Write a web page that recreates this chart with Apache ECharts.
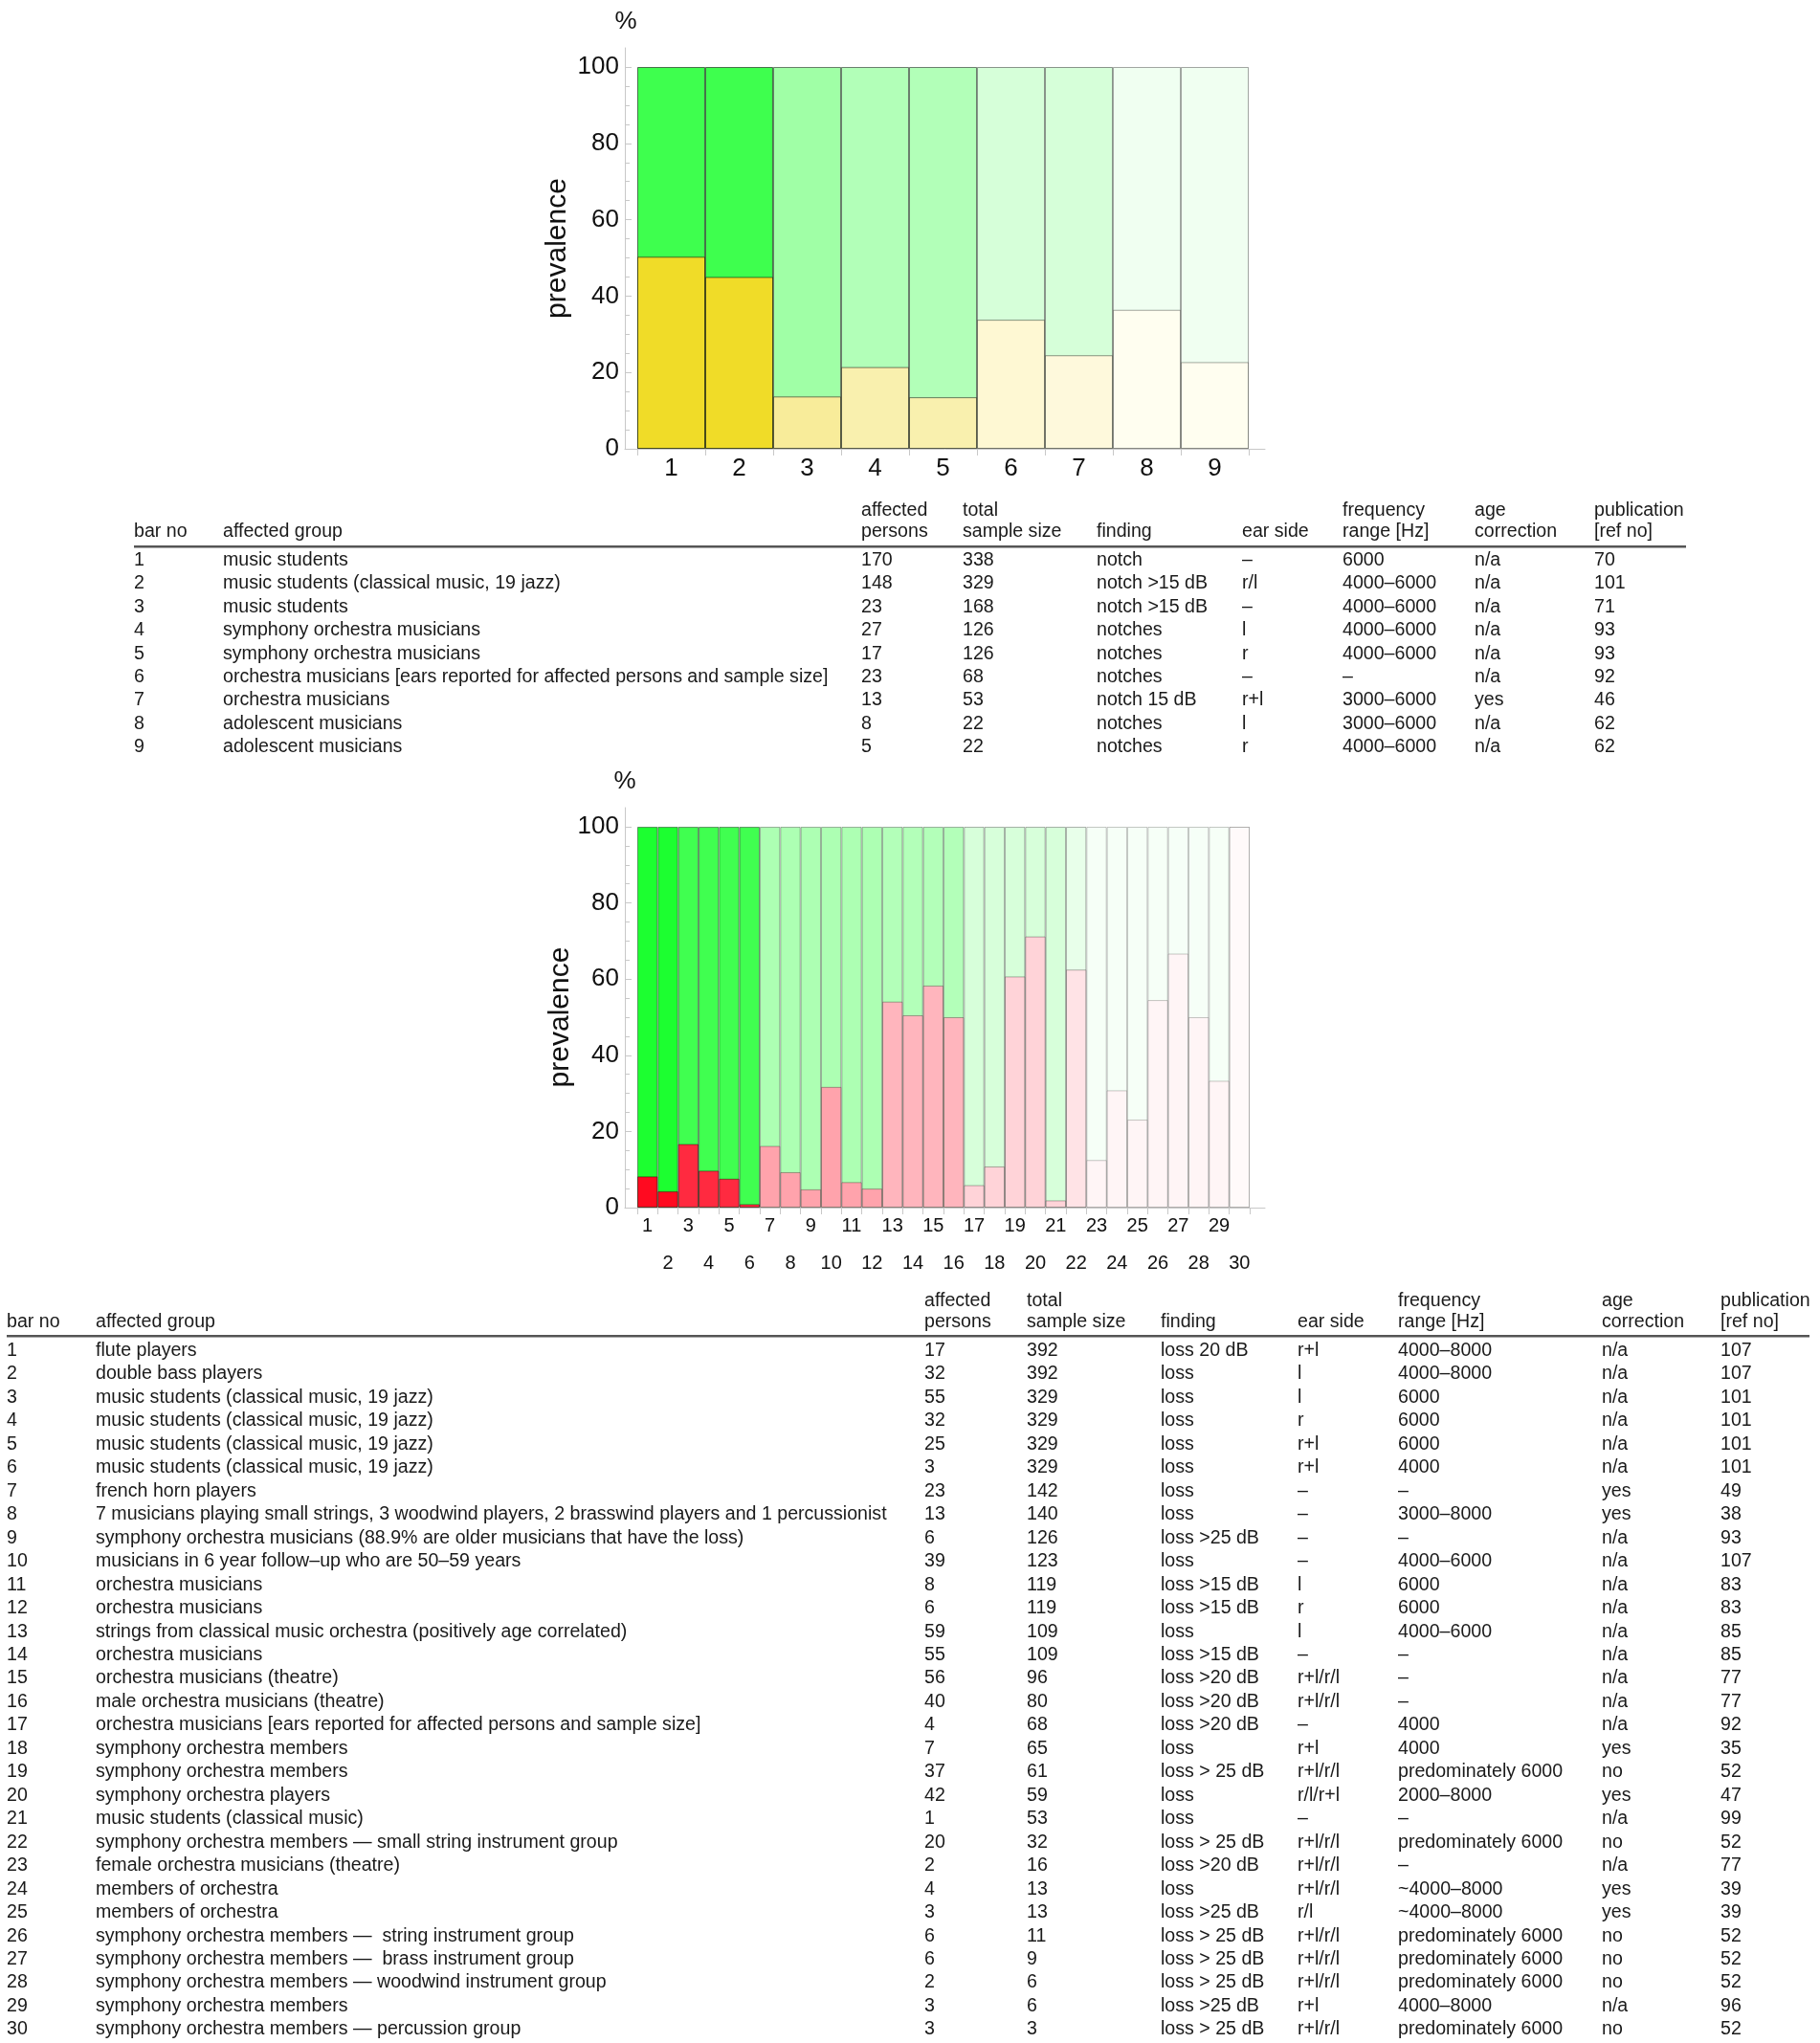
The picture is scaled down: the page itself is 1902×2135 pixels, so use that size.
<!DOCTYPE html>
<html>
<head>
<meta charset="utf-8">
<script src="https://cdn.jsdelivr.net/npm/echarts@6/dist/echarts.min.js"></script>
<style>
html,body{margin:0;padding:0;background:#fff;width:1902px;height:2135px;overflow:hidden;}
#chart{position:absolute;left:0;top:0;width:1902px;height:2135px;}
#tables{position:absolute;left:0;top:0;width:1902px;height:2135px;font-family:"Liberation Sans",Arial,sans-serif;font-size:19.6px;color:#1a1a1a;}
.t{position:absolute;white-space:pre;line-height:24px;}
.rule{position:absolute;height:2px;background:#555;border-bottom:1px solid #aaa;}
</style>
</head>
<body>
<div id="chart"></div>
<div id="tables"></div>
<script>
// ---------- chart data ----------
const topCategories = ['1','2','3','4','5','6','7','8','9'];
const topFull = [100,100,100,100,100,100,100,100,100];
const topPrevalence = [50.3,45.0,13.7,21.4,13.5,33.8,24.5,36.4,22.7];

const bottomCategories = ['1','2','3','4','5','6','7','8','9','10','11','12','13','14','15','16','17','18','19','20','21','22','23','24','25','26','27','28','29','30'];
const bottomFull = [100,100,100,100,100,100,100,100,100,100,100,100,100,100,100,100,100,100,100,100,100,100,100,100,100,100,100,100,100,100];
const bottomPrevalence = [8.2,4.3,16.7,9.7,7.6,0.9,16.2,9.3,4.8,31.7,6.7,5.0,54.1,50.5,58.3,50.0,5.9,10.8,60.7,71.2,1.9,62.5,12.5,30.8,23.1,54.5,66.7,50.0,33.3,100];

// ---------- table 1 data ----------
const t1BarNo = ['1','2','3','4','5','6','7','8','9'];
const t1Group = ['music students','music students (classical music, 19 jazz)','music students','symphony orchestra musicians','symphony orchestra musicians','orchestra musicians [ears reported for affected persons and sample size]','orchestra musicians','adolescent musicians','adolescent musicians'];
const t1Affected = ['170','148','23','27','17','23','13','8','5'];
const t1Total = ['338','329','168','126','126','68','53','22','22'];
const t1Finding = ['notch','notch >15 dB','notch >15 dB','notches','notches','notches','notch 15 dB','notches','notches'];
const t1Ear = ['–','r/l','–','l','r','–','r+l','l','r'];
const t1Freq = ['6000','4000–6000','4000–6000','4000–6000','4000–6000','–','3000–6000','3000–6000','4000–6000'];
const t1Age = ['n/a','n/a','n/a','n/a','n/a','n/a','yes','n/a','n/a'];
const t1Ref = ['70','101','71','93','93','92','46','62','62'];

// ---------- table 2 data ----------
const t2BarNo = ['1','2','3','4','5','6','7','8','9','10','11','12','13','14','15','16','17','18','19','20','21','22','23','24','25','26','27','28','29','30'];
const t2Group = ['flute players','double bass players','music students (classical music, 19 jazz)','music students (classical music, 19 jazz)','music students (classical music, 19 jazz)','music students (classical music, 19 jazz)','french horn players','7 musicians playing small strings, 3 woodwind players, 2 brasswind players and 1 percussionist','symphony orchestra musicians (88.9% are older musicians that have the loss)','musicians in 6 year follow–up who are 50–59 years','orchestra musicians','orchestra musicians','strings from classical music orchestra (positively age correlated)','orchestra musicians','orchestra musicians (theatre)','male orchestra musicians (theatre)','orchestra musicians [ears reported for affected persons and sample size]','symphony orchestra members','symphony orchestra members','symphony orchestra players','music students (classical music)','symphony orchestra members — small string instrument group','female orchestra musicians (theatre)','members of orchestra','members of orchestra','symphony orchestra members —  string instrument group','symphony orchestra members —  brass instrument group','symphony orchestra members — woodwind instrument group','symphony orchestra members','symphony orchestra members — percussion group'];
const t2Affected = ['17','32','55','32','25','3','23','13','6','39','8','6','59','55','56','40','4','7','37','42','1','20','2','4','3','6','6','2','3','3'];
const t2Total = ['392','392','329','329','329','329','142','140','126','123','119','119','109','109','96','80','68','65','61','59','53','32','16','13','13','11','9','6','6','3'];
const t2Finding = ['loss 20 dB','loss','loss','loss','loss','loss','loss','loss','loss >25 dB','loss','loss >15 dB','loss >15 dB','loss','loss >15 dB','loss >20 dB','loss >20 dB','loss >20 dB','loss','loss > 25 dB','loss','loss','loss > 25 dB','loss >20 dB','loss','loss >25 dB','loss > 25 dB','loss > 25 dB','loss > 25 dB','loss >25 dB','loss > 25 dB'];
const t2Ear = ['r+l','l','l','r','r+l','r+l','–','–','–','–','l','r','l','–','r+l/r/l','r+l/r/l','–','r+l','r+l/r/l','r/l/r+l','–','r+l/r/l','r+l/r/l','r+l/r/l','r/l','r+l/r/l','r+l/r/l','r+l/r/l','r+l','r+l/r/l'];
const t2Freq = ['4000–8000','4000–8000','6000','6000','6000','4000','–','3000–8000','–','4000–6000','6000','6000','4000–6000','–','–','–','4000','4000','predominately 6000','2000–8000','–','predominately 6000','–','~4000–8000','~4000–8000','predominately 6000','predominately 6000','predominately 6000','4000–8000','predominately 6000'];
const t2Age = ['n/a','n/a','n/a','n/a','n/a','n/a','yes','yes','n/a','n/a','n/a','n/a','n/a','n/a','n/a','n/a','n/a','yes','no','yes','n/a','no','n/a','yes','yes','no','no','no','n/a','no'];
const t2Ref = ['107','107','101','101','101','101','49','38','93','107','83','83','85','85','77','77','92','35','52','47','99','52','77','39','39','52','52','52','96','52'];

// ---------- styles ----------
const topGreen = ['#3EFF4E','#3EFF4E','#A0FFA6','#B2FFB8','#B2FFB8','#D6FFD9','#D6FFD9','#F0FFF1','#F0FFF1'];
const topYellow = ['#F0DC28','#F0DC28','#F8EC9A','#F9F0AE','#F9F0AE','#FEF8D3','#FEF9DC','#FFFEF0','#FFFEF0'];
const topEdge = ['rgba(0,0,0,0.55)','rgba(0,0,0,0.55)','rgba(0,0,0,0.5)','rgba(0,0,0,0.5)','rgba(0,0,0,0.5)','rgba(0,0,0,0.42)','rgba(0,0,0,0.42)','rgba(0,0,0,0.35)','rgba(0,0,0,0.35)'];

function groupColor(i, groups){ for (const g of groups){ if (i < g[0]) return g[1]; } return groups[groups.length-1][1]; }
const greenGroups = [[2,'#1CFF30'],[6,'#40FF50'],[12,'#ADFFB3'],[16,'#B3FFB9'],[21,'#D7FFDA'],[22,'#E8FFEA'],[30,'#F6FFF7']];
const redGroups = [[2,'#FF0A20'],[6,'#FF2A40'],[12,'#FFA3AC'],[16,'#FFB5BD'],[21,'#FFD3D8'],[22,'#FFE3E6'],[29,'#FFF5F6'],[30,'#FFFAFA']];
const edgeGroups = [[6,'rgba(0,0,0,0.4)'],[22,'rgba(0,0,0,0.3)'],[30,'rgba(0,0,0,0.22)']];

const FONT = '"Liberation Sans", Arial, sans-serif';
const AXIS_GRAY = '#c8c8c8';

const percentName = {name:'%', nameLocation:'end', nameMoveOverlap:false,
  nameTextStyle:{fontSize:26, color:'#111', fontFamily:FONT, align:'center'}};
const prevName = {name:'prevalence', nameLocation:'middle', nameRotate:90, nameMoveOverlap:false,
  nameTextStyle:{fontSize:30, color:'#111', fontFamily:FONT}};

// ---------- chart ----------
const chart = echarts.init(document.getElementById('chart'), null, {renderer:'canvas'});

function plotY(gridIndex, nameCfg){
  return Object.assign({
    type:'value', gridIndex, min:0, max:100, interval:20, offset:12,
    axisLine:{show:false},
    axisTick:{show:true, inside:true, length:6, lineStyle:{color:AXIS_GRAY}},
    minorTick:{show:true, splitNumber:4, length:4, lineStyle:{color:AXIS_GRAY}},
    splitLine:{show:false},
    axisLabel:{fontSize:26, margin:7, color:'#111', fontFamily:FONT}
  }, nameCfg);
}
function frameX(gridIndex){
  return {type:'value', gridIndex, min:0, max:1, axisLine:{show:true, onZero:false, lineStyle:{color:AXIS_GRAY}},
    axisTick:{show:false}, axisLabel:{show:false}, splitLine:{show:false}};
}
function frameY(gridIndex, nameCfg){
  return Object.assign({type:'value', gridIndex, min:0, max:1, axisLine:{show:true, onZero:false, lineStyle:{color:AXIS_GRAY}},
    axisTick:{show:false}, axisLabel:{show:false}, splitLine:{show:false}}, nameCfg);
}

const option = {
  animation:false,
  grid:[
    {left:666, top:70, width:639, height:399},
    {left:666, top:864, width:640, height:398},
    {left:653, top:50, width:669, height:419},
    {left:653, top:844, width:669, height:418}
  ],
  xAxis:[
    {type:'category', gridIndex:0, data:topCategories, boundaryGap:true,
      axisLine:{show:false}, axisTick:{show:true, length:7, lineStyle:{color:AXIS_GRAY}},
      axisLabel:{fontSize:26, margin:8, color:'#111', fontFamily:FONT, interval:0}},
    {type:'category', gridIndex:1, data:bottomCategories, boundaryGap:true,
      axisLine:{show:false}, axisTick:{show:true, length:7, interval:0, lineStyle:{color:AXIS_GRAY}},
      axisLabel:{fontSize:20, margin:9, color:'#111', fontFamily:FONT, interval:(i)=> i%2===0}},
    {type:'category', gridIndex:1, data:bottomCategories, boundaryGap:true, position:'bottom', offset:0,
      axisLine:{show:false}, axisTick:{show:false},
      axisLabel:{fontSize:20, margin:48, color:'#111', fontFamily:FONT, interval:(i)=> i%2===1}},
    frameX(2), frameX(3)
  ],
  yAxis:[
    plotY(0, Object.assign({nameGap:34}, percentName)),
    plotY(1, Object.assign({nameGap:53}, prevName)),
    frameY(2, Object.assign({nameGap:55}, prevName)),
    frameY(3, Object.assign({nameGap:14}, percentName))
  ],
  series:[
    {type:'bar', xAxisIndex:0, yAxisIndex:0, barCategoryGap:'0%', barGap:'-100%', silent:true,
      data: topFull.map((v,i)=>({value:v, itemStyle:{color:topGreen[i], borderColor:topEdge[i], borderWidth:1}}))},
    {type:'bar', xAxisIndex:0, yAxisIndex:0, barCategoryGap:'0%', barGap:'-100%', silent:true,
      data: topPrevalence.map((v,i)=>({value:v, itemStyle:{color:topYellow[i], borderColor:topEdge[i], borderWidth:1}}))},
    {type:'bar', xAxisIndex:1, yAxisIndex:1, barCategoryGap:'0%', barGap:'-100%', silent:true,
      data: bottomFull.map((v,i)=>({value:v, itemStyle:{color:groupColor(i,greenGroups), borderColor:groupColor(i,edgeGroups), borderWidth:1}}))},
    {type:'bar', xAxisIndex:1, yAxisIndex:1, barCategoryGap:'0%', barGap:'-100%', silent:true,
      data: bottomPrevalence.map((v,i)=>({value:v, itemStyle:{color:groupColor(i,redGroups), borderColor:groupColor(i,edgeGroups), borderWidth:1}}))}
  ]
};
chart.setOption(option);

// ---------- tables ----------
const box = document.getElementById('tables');
function txt(s, x, y){
  const d = document.createElement('div');
  d.className = 't';
  d.textContent = s;
  d.style.left = x + 'px';
  d.style.top = (y - 11) + 'px';
  box.appendChild(d);
}
function rule(x1, x2, y){
  const d = document.createElement('div');
  d.className = 'rule';
  d.style.left = x1 + 'px';
  d.style.width = (x2 - x1) + 'px';
  d.style.top = (y - 1) + 'px';
  box.appendChild(d);
}
function buildTable(cfg){
  const c = cfg.cols;
  cfg.headers.forEach((h, k) => {
    if (h[0]) txt(h[0], c[k], cfg.h1);
    if (h[1]) txt(h[1], c[k], cfg.h2);
  });
  rule(cfg.ruleX1, cfg.ruleX2, cfg.ruleY);
  cfg.columns.forEach((arr, k) => {
    arr.forEach((s, r) => txt(s, c[k], cfg.row0 + r * cfg.dy));
  });
}
const headers = [['','bar no'],['','affected group'],['affected','persons'],['total','sample size'],['','finding'],['','ear side'],['frequency','range [Hz]'],['age','correction'],['publication','[ref no]']];

buildTable({
  cols:[140,233,900,1006,1146,1298,1403,1541,1666],
  headers, h1:531, h2:553, ruleY:571, ruleX1:140, ruleX2:1762, row0:583, dy:24.4,
  columns:[t1BarNo,t1Group,t1Affected,t1Total,t1Finding,t1Ear,t1Freq,t1Age,t1Ref]
});
buildTable({
  cols:[7,100,966,1073,1213,1356,1461,1674,1798],
  headers, h1:1357, h2:1379, ruleY:1396, ruleX1:7, ruleX2:1891, row0:1409, dy:24.46,
  columns:[t2BarNo,t2Group,t2Affected,t2Total,t2Finding,t2Ear,t2Freq,t2Age,t2Ref]
});
</script>
</body>
</html>
